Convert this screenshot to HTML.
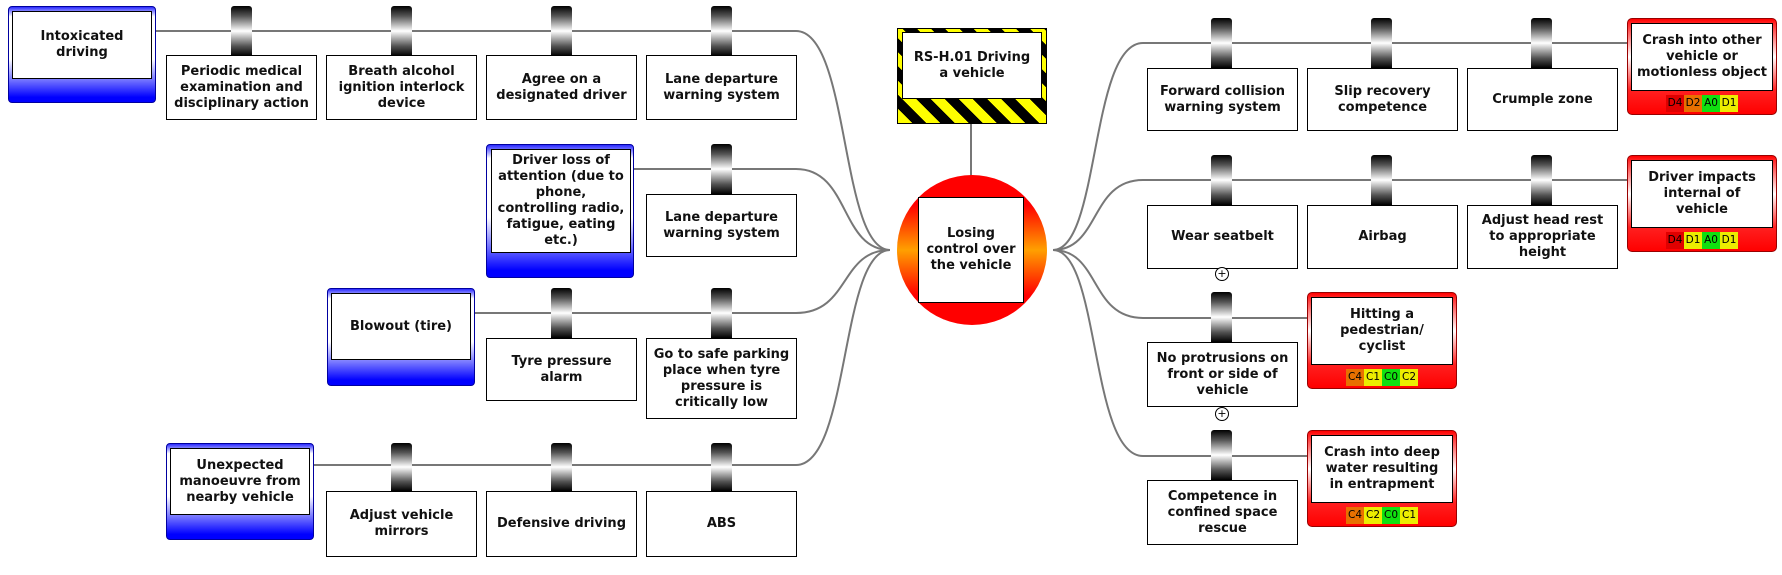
<!DOCTYPE html>
<html><head><meta charset="utf-8"><style>
body{margin:0;width:1782px;height:575px;background:#fff;position:relative;overflow:hidden;font-family:"DejaVu Sans","Liberation Sans",sans-serif;}
.a{position:absolute;box-sizing:border-box;}
.t{display:flex;align-items:center;justify-content:center;text-align:center;font-weight:bold;font-size:13px;line-height:16px;color:#111;white-space:nowrap;}
.c{background:#fff;border:1px solid #000;}
.bar{width:21px;border-radius:3px 3px 0 0;background:linear-gradient(#000,#555 20%,#fff 50%,#555 80%,#000);}
.thr{border:1px solid #0000a0;border-radius:4px;background:linear-gradient(#2a2aff 0,#fff 10%,#fff 55%,#0000ff 95%);}
.con{border:1px solid #900;border-radius:5px;background:linear-gradient(#f00 0,#ff3030 6%,#fff 40%,#ff2020 75%,#f00 100%);}
.in{background:#fff;border:1px solid #000;}
.tags{position:absolute;display:flex;left:0;right:0;justify-content:center;}
.tags span{width:18px;height:17px;font-size:10.5px;line-height:17px;text-align:center;font-weight:normal;font-family:"DejaVu Sans",sans-serif;}
.r{background:#e00000}.o{background:#e87000}.g{background:#10e010}.y{background:#ecec00}
.plus{position:absolute;width:12px;height:12px;border:1px solid #000;border-radius:50%;font-size:11px;line-height:12px;text-align:center;background:#fff;}
</style></head><body>
<svg class="a" style="left:0;top:0" width="1782" height="575">
<g stroke="#777" stroke-width="2" fill="none">
<path d="M155 31 H796 C850 31 840 250 890 250"/>
<path d="M633 169 H796 C850 169 840 250 890 250"/>
<path d="M475 313 H796 C850 313 840 250 890 250"/>
<path d="M314 465 H796 C850 465 840 250 890 250"/>
<path d="M1627 43 H1143 C1090 43 1100 250 1053 250"/>
<path d="M1627 180 H1143 C1090 180 1100 250 1053 250"/>
<path d="M1307 318 H1143 C1090 318 1100 250 1053 250"/>
<path d="M1307 456 H1143 C1090 456 1100 250 1053 250"/>
<path d="M971 124 V176"/>
</g>
<defs><linearGradient id="cg" x1="0" y1="0" x2="0" y2="1"><stop offset="0" stop-color="#f00"/><stop offset="0.2" stop-color="#f00"/><stop offset="0.5" stop-color="#ffa000"/><stop offset="0.8" stop-color="#f00"/><stop offset="1" stop-color="#f00"/></linearGradient></defs>
<circle cx="972" cy="250" r="75" fill="url(#cg)"/>
</svg>

<!-- hazard -->
<div class="a" style="left:897px;top:28px;width:150px;height:96px;border:1px solid #000;background:repeating-linear-gradient(45deg,#ff0 0 10px,#000 10px 20px);"></div>
<div class="a t c" style="left:902px;top:32px;width:140px;height:67px;">RS-H.01 Driving<br>a vehicle</div>
<div class="a t c" style="left:918px;top:197px;width:106px;height:106px;">Losing<br>control over<br>the vehicle</div>

<!-- Left threats -->
<div class="a thr" style="left:8px;top:6px;width:148px;height:97px;"></div>
<div class="a t in" style="left:12px;top:11px;width:140px;height:68px;">Intoxicated<br>driving</div>
<div class="a thr" style="left:486px;top:144px;width:148px;height:134px;"></div>
<div class="a t in" style="left:491px;top:149px;width:140px;height:104px;">Driver loss of<br>attention (due to<br>phone,<br>controlling radio,<br>fatigue, eating<br>etc.)</div>
<div class="a thr" style="left:327px;top:288px;width:148px;height:98px;"></div>
<div class="a t in" style="left:331px;top:293px;width:140px;height:67px;">Blowout (tire)</div>
<div class="a thr" style="left:166px;top:443px;width:148px;height:97px;"></div>
<div class="a t in" style="left:170px;top:448px;width:140px;height:67px;">Unexpected<br>manoeuvre from<br>nearby vehicle</div>

<!-- Left barriers -->
<div class="a bar" style="left:231px;top:6px;height:50px"></div>
<div class="a bar" style="left:391px;top:6px;height:50px"></div>
<div class="a bar" style="left:551px;top:6px;height:50px"></div>
<div class="a bar" style="left:711px;top:6px;height:50px"></div>
<div class="a t c" style="left:166px;top:55px;width:151px;height:65px;">Periodic medical<br>examination and<br>disciplinary action</div>
<div class="a t c" style="left:326px;top:55px;width:151px;height:65px;">Breath alcohol<br>ignition interlock<br>device</div>
<div class="a t c" style="left:486px;top:55px;width:151px;height:65px;">Agree on a<br>designated driver</div>
<div class="a t c" style="left:646px;top:55px;width:151px;height:65px;">Lane departure<br>warning system</div>

<div class="a bar" style="left:711px;top:144px;height:50px"></div>
<div class="a t c" style="left:646px;top:194px;width:151px;height:63px;">Lane departure<br>warning system</div>

<div class="a bar" style="left:551px;top:288px;height:50px"></div>
<div class="a bar" style="left:711px;top:288px;height:50px"></div>
<div class="a t c" style="left:486px;top:338px;width:151px;height:63px;">Tyre pressure<br>alarm</div>
<div class="a t c" style="left:646px;top:338px;width:151px;height:81px;">Go to safe parking<br>place when tyre<br>pressure is<br>critically low</div>

<div class="a bar" style="left:391px;top:443px;height:48px"></div>
<div class="a bar" style="left:551px;top:443px;height:48px"></div>
<div class="a bar" style="left:711px;top:443px;height:48px"></div>
<div class="a t c" style="left:326px;top:491px;width:151px;height:66px;">Adjust vehicle<br>mirrors</div>
<div class="a t c" style="left:486px;top:491px;width:151px;height:66px;">Defensive driving</div>
<div class="a t c" style="left:646px;top:491px;width:151px;height:66px;">ABS</div>

<!-- Right barriers -->
<div class="a bar" style="left:1211px;top:18px;height:50px"></div>
<div class="a bar" style="left:1371px;top:18px;height:50px"></div>
<div class="a bar" style="left:1531px;top:18px;height:50px"></div>
<div class="a t c" style="left:1147px;top:68px;width:151px;height:63px;">Forward collision<br>warning system</div>
<div class="a t c" style="left:1307px;top:68px;width:151px;height:63px;">Slip recovery<br>competence</div>
<div class="a t c" style="left:1467px;top:68px;width:151px;height:63px;">Crumple zone</div>

<div class="a bar" style="left:1211px;top:155px;height:50px"></div>
<div class="a bar" style="left:1371px;top:155px;height:50px"></div>
<div class="a bar" style="left:1531px;top:155px;height:50px"></div>
<div class="a t c" style="left:1147px;top:205px;width:151px;height:64px;">Wear seatbelt</div>
<div class="a t c" style="left:1307px;top:205px;width:151px;height:64px;">Airbag</div>
<div class="a t c" style="left:1467px;top:205px;width:151px;height:64px;">Adjust head rest<br>to appropriate<br>height</div>
<div class="plus" style="left:1215px;top:267px;">+</div>

<div class="a bar" style="left:1211px;top:292px;height:50px"></div>
<div class="a t c" style="left:1147px;top:342px;width:151px;height:65px;">No protrusions on<br>front or side of<br>vehicle</div>
<div class="plus" style="left:1215px;top:407px;">+</div>

<div class="a bar" style="left:1211px;top:430px;height:50px"></div>
<div class="a t c" style="left:1147px;top:480px;width:151px;height:65px;">Competence in<br>confined space<br>rescue</div>

<!-- Consequences -->
<div class="a con" style="left:1627px;top:18px;width:150px;height:97px;">
<div class="a t in" style="left:3px;top:4px;width:142px;height:68px;">Crash into other<br>vehicle or<br>motionless object</div>
<div class="tags" style="top:76px"><span class="r">D4</span><span class="o">D2</span><span class="g">A0</span><span class="y">D1</span></div></div>
<div class="a con" style="left:1627px;top:155px;width:150px;height:97px;">
<div class="a t in" style="left:3px;top:4px;width:142px;height:68px;">Driver impacts<br>internal of<br>vehicle</div>
<div class="tags" style="top:76px"><span class="r">D4</span><span class="y">D1</span><span class="g">A0</span><span class="y">D1</span></div></div>
<div class="a con" style="left:1307px;top:292px;width:150px;height:97px;">
<div class="a t in" style="left:3px;top:4px;width:142px;height:68px;">Hitting a<br>pedestrian/<br>cyclist</div>
<div class="tags" style="top:76px"><span class="o">C4</span><span class="y">C1</span><span class="g">C0</span><span class="y">C2</span></div></div>
<div class="a con" style="left:1307px;top:430px;width:150px;height:97px;">
<div class="a t in" style="left:3px;top:4px;width:142px;height:68px;">Crash into deep<br>water resulting<br>in entrapment</div>
<div class="tags" style="top:76px"><span class="o">C4</span><span class="y">C2</span><span class="g">C0</span><span class="y">C1</span></div></div>
</body></html>
